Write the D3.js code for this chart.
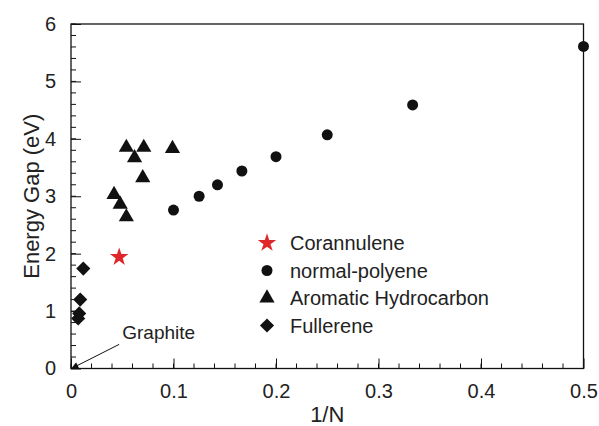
<!DOCTYPE html>
<html>
<head>
<meta charset="utf-8">
<script src="https://cdn.jsdelivr.net/npm/d3@7"></script>
<style>
  body { margin: 0; background: #fff; }
  text { font-family: 'Liberation Sans', Arial, sans-serif; fill: #222; }
</style>
</head>
<body>
<div id="chart"></div>
<script>
// values
let polyeneX = [0.1, 0.125, 0.1429, 0.1667, 0.2, 0.25, 0.3333, 0.5]
let polyeneY = [2.76, 3.0, 3.2, 3.44, 3.69, 4.07, 4.59, 5.61]

let aromaticX = [0.042, 0.048, 0.054, 0.054, 0.062, 0.07, 0.071, 0.099]
let aromaticY = [3.03, 2.86, 2.64, 3.85, 3.67, 3.32, 3.85, 3.83]

let fullereneX = [0.007, 0.008, 0.009, 0.012]
let fullereneY = [0.87, 0.96, 1.2, 1.74]

let corannuleneX = [0.047]
let corannuleneY = [1.94]

let legendLabels = ['Corannulene', 'normal-polyene', 'Aromatic Hydrocarbon', 'Fullerene']
let xTicks = [0, 0.1, 0.2, 0.3, 0.4, 0.5]
let yTicks = [0, 1, 2, 3, 4, 5, 6]

let margin = { top: 24, left: 71, right: 15.5, bottom: 57.5 }
let width = 599 - margin.left - margin.right
let height = 426 - margin.top - margin.bottom

let svg = d3
  .select('#chart')
  .append('svg')
  .attr('width', 599)
  .attr('height', 426)
  .append('g')
  .attr('transform', 'translate(' + margin.left + ',' + margin.top + ')')

let xPositionScale = d3.scaleLinear().domain([0, 0.5]).range([0, width])
let yPositionScale = d3.scaleLinear().domain([0, 6]).range([height, 0])

let zip = (xs, ys) => xs.map((x, i) => ({ x: x, y: ys[i] }))

let star = d3.symbol().type(d3.symbolStar).size(105)
let triangle = d3.symbol().type(d3.symbolTriangle).size(100)
let diamond = d3.symbol().type(d3.symbolSquare).size(100)
let dot = d3.symbol().type(d3.symbolCircle).size(95)

// frame
svg
  .append('rect')
  .attr('width', width)
  .attr('height', height)
  .attr('fill', 'none')
  .attr('stroke', '#111')
  .attr('stroke-width', 1.3)

// minor ticks drawn inward
let xMinor = d3.range(0, 0.5001, 0.02)
let yMinor = d3.range(0, 6.001, 0.2)

svg
  .selectAll('.x-minor')
  .data(xMinor)
  .enter()
  .append('line')
  .attr('class', 'x-minor')
  .attr('x1', d => xPositionScale(d))
  .attr('x2', d => xPositionScale(d))
  .attr('y1', height)
  .attr('y2', height - 5)
  .attr('stroke', '#111')
  .attr('stroke-width', 1)

svg
  .selectAll('.y-minor')
  .data(yMinor)
  .enter()
  .append('line')
  .attr('class', 'y-minor')
  .attr('x1', 0)
  .attr('x2', 5)
  .attr('y1', d => yPositionScale(d))
  .attr('y2', d => yPositionScale(d))
  .attr('stroke', '#111')
  .attr('stroke-width', 1)

let xAxis = d3
  .axisBottom(xPositionScale)
  .tickValues(xTicks)
  .tickFormat(d => (d === 0 ? '0' : d3.format('.1f')(d)))
  .tickSizeInner(-10)
  .tickSizeOuter(0)
  .tickPadding(15)

svg
  .append('g')
  .attr('class', 'axis x-axis')
  .attr('transform', 'translate(0,' + height + ')')
  .call(xAxis)

let yAxis = d3
  .axisLeft(yPositionScale)
  .tickValues(yTicks)
  .tickFormat(d3.format('d'))
  .tickSizeInner(-10)
  .tickSizeOuter(0)
  .tickPadding(15)

svg
  .append('g')
  .attr('class', 'axis y-axis')
  .call(yAxis)

svg.selectAll('.axis path').remove()
svg
  .selectAll('.axis line')
  .attr('stroke', '#111')
  .attr('stroke-width', 1)
svg
  .selectAll('.axis text')
  .style('font-size', '20px')
  .style('fill', '#222')
  .style('font-family', "'Liberation Sans', Arial, sans-serif")

// axis titles
svg
  .append('text')
  .attr('x', width / 2)
  .attr('y', height + 53)
  .attr('text-anchor', 'middle')
  .style('font-size', '22px')
  .text('1/N')

svg
  .append('text')
  .attr('transform', 'translate(-32,' + height / 2 + ') rotate(-90)')
  .attr('text-anchor', 'middle')
  .style('font-size', '22px')
  .text('Energy Gap (eV)')

// graphite annotation
svg
  .append('defs')
  .append('marker')
  .attr('id', 'arrow')
  .attr('viewBox', '0 0 10 10')
  .attr('refX', 9)
  .attr('refY', 5)
  .attr('markerWidth', 9)
  .attr('markerHeight', 7)
  .attr('markerUnits', 'userSpaceOnUse')
  .attr('orient', 'auto')
  .append('path')
  .attr('d', 'M0,0L10,5L0,10Z')
  .attr('fill', '#111')

svg
  .append('line')
  .attr('x1', xPositionScale(0.047))
  .attr('y1', yPositionScale(0.42))
  .attr('x2', xPositionScale(0.001))
  .attr('y2', yPositionScale(0.005))
  .attr('stroke', '#111')
  .attr('stroke-width', 1)
  .attr('marker-end', 'url(#arrow)')

svg
  .append('text')
  .attr('x', xPositionScale(0.05))
  .attr('y', yPositionScale(0.52))
  .style('font-size', '19px')
  .text('Graphite')

// data
svg
  .selectAll('.polyene')
  .data(zip(polyeneX, polyeneY))
  .enter()
  .append('path')
  .attr('class', 'polyene')
  .attr('d', dot)
  .attr('transform', d => 'translate(' + xPositionScale(d.x) + ',' + yPositionScale(d.y) + ')')
  .attr('fill', '#111')

svg
  .selectAll('.aromatic')
  .data(zip(aromaticX, aromaticY))
  .enter()
  .append('path')
  .attr('class', 'aromatic')
  .attr('d', triangle)
  .attr('transform', d => 'translate(' + xPositionScale(d.x) + ',' + yPositionScale(d.y) + ')')
  .attr('fill', '#111')

svg
  .selectAll('.fullerene')
  .data(zip(fullereneX, fullereneY))
  .enter()
  .append('path')
  .attr('class', 'fullerene')
  .attr('d', diamond)
  .attr('transform', d => 'translate(' + xPositionScale(d.x) + ',' + yPositionScale(d.y) + ') rotate(45)')
  .attr('fill', '#111')

svg
  .selectAll('.corannulene')
  .data(zip(corannuleneX, corannuleneY))
  .enter()
  .append('path')
  .attr('class', 'corannulene')
  .attr('d', star)
  .attr('transform', d => 'translate(' + xPositionScale(d.x) + ',' + yPositionScale(d.y) + ')')
  .attr('fill', '#e0262a')

// legend
let legendSymbols = [star, dot, triangle, diamond]
let legendColors = ['#e0262a', '#111', '#111', '#111']
let legend = svg
  .append('g')
  .attr('transform', 'translate(' + (267 - margin.left) + ',' + (243 - margin.top) + ')')

legendLabels.forEach((label, i) => {
  let row = legend.append('g').attr('transform', 'translate(0,' + i * 27.5 + ')')
  row
    .append('path')
    .attr('d', legendSymbols[i])
    .attr('transform', i === 3 ? 'rotate(45)' : null)
    .attr('fill', legendColors[i])
  row
    .append('text')
    .attr('x', 23)
    .attr('dy', '0.35em')
    .style('font-size', '20px')
    .text(label)
})
</script>
</body>
</html>
